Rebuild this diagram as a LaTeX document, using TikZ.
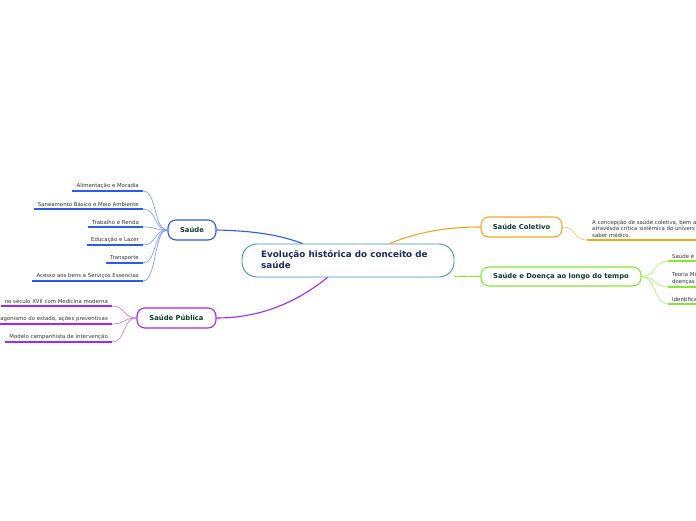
\documentclass[tikz,border=0pt]{standalone}
\usepackage{fontspec}
\setmainfont{DejaVu Sans}
\usetikzlibrary{calc}
\definecolor{cenB}{HTML}{3A8FD0}
\definecolor{cenT}{HTML}{1B2A5A}
\definecolor{labT}{HTML}{0E3B2C}
\definecolor{leafT}{HTML}{333333}
\definecolor{bluC}{HTML}{2A5CF0}
\definecolor{bluL}{HTML}{7F9EFF}
\definecolor{purC}{HTML}{A526F5}
\definecolor{purL}{HTML}{C97CFA}
\definecolor{orC}{HTML}{F5A623}
\definecolor{orL}{HTML}{F7C779}
\definecolor{grC}{HTML}{86E832}
\definecolor{grL}{HTML}{B2EF7C}
\tikzset{
  topic/.style={draw, line width=1.1pt, rounded corners=8pt, fill=white, text=labT,
    font=\fontsize{6.8}{8}\selectfont\bfseries, inner sep=0pt},
  leaf/.style={text=leafT, font=\fontsize{5.4}{6.6}\selectfont, inner xsep=4pt, inner ysep=2.2pt},
  uline/.style={line width=1.6pt},
  twig/.style={line width=0.7pt},
  branch/.style={line width=1.1pt}
}
\begin{document}
\begin{tikzpicture}[x=1pt,y=-1pt]
\useasboundingbox (0,0) rectangle (696,520);
\clip (0,0) rectangle (696,520);
\fill[white] (0,0) rectangle (696,520);

% central
\node[draw=cenB, line width=0.9pt, rounded corners=15pt, fill=white, minimum width=212pt, minimum height=33pt, inner sep=0pt] (c) at (348,260.5) {};
\node[anchor=north west, text=cenT, font=\fontsize{8.8}{10.8}\selectfont\bfseries, align=left, inner sep=0pt] (ct) at (261,250.3) {Evolução histórica do conceito de\\saúde};
\path (c.north west) ++(61,0) coordinate (c1);
\path (c.north west) ++(148,0) coordinate (c2);
\path (c.south west) ++(86,0) coordinate (c3);
\path (c.south east) ++(0,-1) coordinate (c4);

% main topics
\node[topic, draw=bluC, minimum width=48pt, minimum height=20pt] (s) at (192,230) {Saúde};
\node[topic, draw=purC, minimum width=79pt, minimum height=20pt] (p) at (176.5,318) {Saúde Pública};
\node[topic, draw=orC, minimum width=81pt, minimum height=20pt] (k) at (521.5,227) {Saúde Coletivo};
\node[topic, draw=grC, minimum width=160pt, minimum height=19pt] (d) at (561,276.5) {Saúde e Doença ao longo do tempo};

% branches
\draw[branch, bluC] (s.east) .. controls (262,231) and (285,237) .. (c1);
\draw[branch, purC] (c3) .. controls (292,306) and (255,318) .. (p.east);
\draw[branch, orC] (c2) .. controls (420,231) and (450,227) .. (k.west);
\draw[branch, grC] (c4) .. controls (465,276) and (470,276.5) .. (d.west);

% Saude leaves
\foreach \n/\y/\t in {s1/191/{Alimentação e Moradia}, s2/209/{Saneamento Básico e Meio Ambiente}, s3/227/{Trabalho e Renda}, s4/245/{Educação e Lazer}, s5/263/{Transporte}, s6/281/{Acesso aos bens e Serviços Essencias}}{
  \node[leaf, anchor=south east] (\n) at (143,\y) {\t};
  \draw[uline, bluC] (\n.south west) -- (\n.south east);
  \draw[twig, bluL] (\n.south east) .. controls ++(14,0) and ($(s.west)+(-14,0)$) .. (s.west);
}

% Saude Publica leaves
\foreach \n/\y/\t in {p1/306/{no século XVII com Medicina moderna}, p2/324/{agonismo do estado, ações preventivas}, p3/342/{Modelo campanhista de intervenção}}{
  \node[leaf, anchor=south east] (\n) at (112,\y) {\t};
  \draw[uline, purC] (\n.south west) -- (\n.south east);
  \draw[twig, purL] (\n.south east) .. controls ++(14,0) and ($(p.west)+(-14,0)$) .. (p.west);
}

% Saude Coletivo leaf
\node[leaf, anchor=south west, align=left, inner xsep=5pt] (k1) at (587,240) {A concepção de saúde coletiva, bem a\\atravésda crítica sistêmica do univers\\saber médico.};
\draw[uline, orC] (k1.south west) -- (k1.south east);
\draw[twig, orL] (k.east) .. controls ++(14,0) and ($(k1.south west)+(-14,0)$) .. (k1.south west);

% Saude e Doenca leaves
\node[leaf, anchor=south west] (d1) at (668,261) {Saúde é};
\node[leaf, anchor=south west, align=left] (d2) at (668,287) {Teoria Mi\\doenças};
\node[leaf, anchor=south west] (d3) at (668,304) {Identifica};
\foreach \n in {d1, d2, d3}{
  \draw[uline, grC] (\n.south west) -- ($(\n.south west)+(40,0)$);
  \draw[twig, grL] (d.east) .. controls ++(14,0) and ($(\n.south west)+(-14,0)$) .. (\n.south west);
}
\end{tikzpicture}
\end{document}
